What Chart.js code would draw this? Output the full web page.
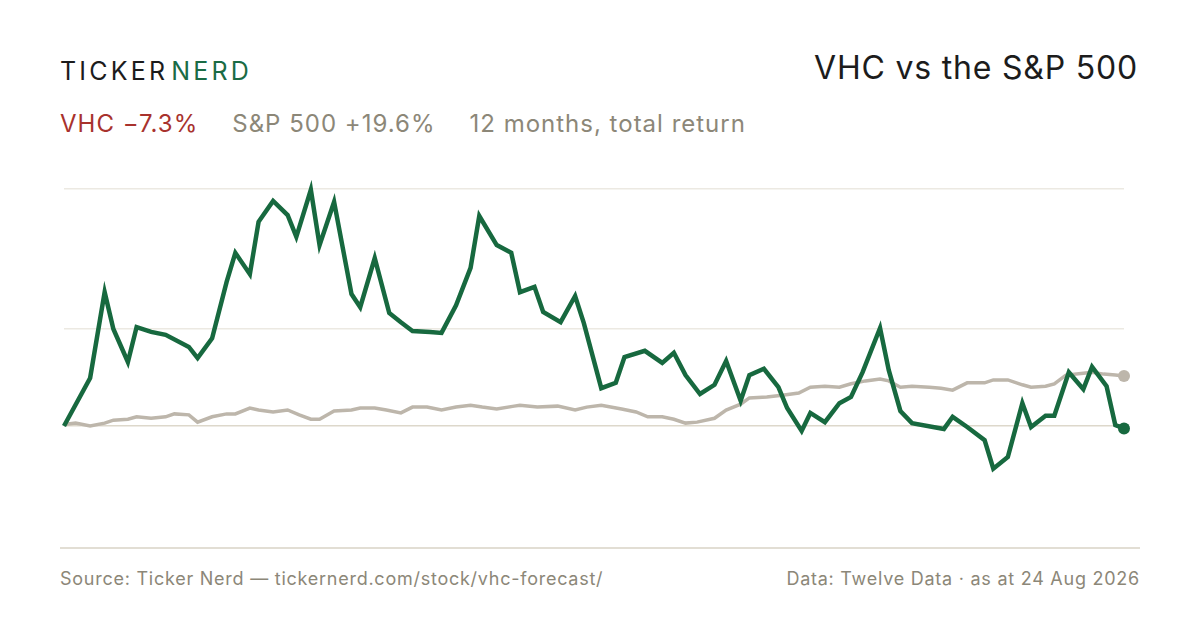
<!DOCTYPE html>
<html>
<head>
<meta charset="utf-8">
<script src="https://cdn.jsdelivr.net/npm/chart.js@4"></script>
<style>
  body { margin: 0; width: 1200px; height: 630px; background: #fff; font-family: Inter, "Liberation Sans", sans-serif; position: relative; overflow: hidden; }
  .brand { position: absolute; left: 60px; top: 56px; font-size: 25px; letter-spacing: 3.2px; color: #1c1c1c; }
  .brand span { color: #1a6b45; margin-left: 3px; }
  .title { position: absolute; right: 62px; top: 48px; font-size: 32px; letter-spacing: 0.8px; color: #1c1c1c; }
  .sub { position: absolute; left: 60px; top: 109px; font-size: 24px; letter-spacing: 1px; color: #8c8778; white-space: nowrap; }
  .sub .vhc { color: #a8322d; margin-right: 34px; }
  .sub .spx { margin-right: 34px; }
  .rule { position: absolute; left: 60px; top: 547px; width: 1080px; height: 2px; background: #e2ded4; }
  .foot { position: absolute; top: 568px; font-size: 18px; letter-spacing: 0.75px; color: #8c8778; }
  .foot.l { left: 60px; }
  .foot.r { right: 60px; }
  #wrap { position: absolute; left: 54px; top: 170px; width: 1080px; height: 320px; }
</style>
</head>
<body>
<div class="brand">TICKER<span>NERD</span></div>
<div class="title">VHC vs the S&amp;P 500</div>
<div class="sub"><span class="vhc">VHC −7.3%</span><span class="spx">S&amp;P 500 +19.6%</span><span>12 months, total return</span></div>
<div id="wrap"><canvas id="chart"></canvas></div>
<div class="rule"></div>
<div class="foot l">Source: Ticker Nerd — tickernerd.com/stock/vhc-forecast/</div>
<div class="foot r">Data: Twelve Data · as at 24 Aug 2026</div>
<script>
// day offsets (calendar days from start) and rebased % values
let vhcDays = [0, 9, 14, 17, 22, 25, 30, 35, 43, 46, 51, 56, 59, 64, 67, 72, 77, 80, 85, 88,
  93, 99, 102, 107, 112, 116, 120, 126, 130, 135, 140, 143, 149, 154, 157, 162, 165, 171, 176, 179,
  185, 190, 193, 200, 206, 210, 214, 219, 224, 228, 233, 236, 241, 246, 249, 254, 257, 262, 267, 271,
  275, 281, 284, 288, 292, 303, 306, 311, 317, 320, 325, 330, 333, 338, 341, 346, 351, 354, 359, 362, 365];
let vhcValues = [0, 9.9, 27.6, 20.0, 13.2, 20.4, 19.4, 18.8, 16.3, 14.0, 18.1, 29.7, 35.7, 31.3, 42.1, 46.4, 43.5, 39.0, 48.7, 37.3,
  46.2, 27.2, 24.5, 34.6, 23.3, 21.4, 19.6, 19.4, 19.2, 24.9, 32.6, 43.3, 37.3, 35.7, 27.6, 28.7, 23.5, 21.4, 26.8, 21.2,
  7.8, 8.9, 14.2, 15.5, 13.0, 15.1, 10.5, 6.6, 8.5, 13.4, 5.2, 10.5, 11.8, 8.0, 3.7, -1.0, 2.7, 0.8, 4.7, 6.0,
  11.1, 20.2, 11.5, 3.1, 0.6, -0.6, 1.9, -0.2, -2.9, -8.8, -6.4, 4.7, -0.2, 2.1, 2.1, 11.1, 7.6, 12.2, 8.2, 0.2, -0.5];

let spxDays = [0, 4, 9, 14, 17, 22, 25, 30, 35, 38, 43, 46, 51, 56, 59, 64, 67, 72, 77, 81,
  85, 88, 93, 99, 102, 107, 111, 116, 120, 125, 130, 135, 140, 144, 149, 155, 157, 163, 170, 176,
  180, 185, 192, 197, 201, 206, 210, 214, 218, 224, 228, 233, 236, 242, 248, 253, 257, 262, 267, 271,
  276, 281, 284, 288, 292, 298, 302, 306, 311, 317, 320, 325, 330, 333, 338, 341, 345, 351, 354, 358, 362, 365];
let spxValues = [0.3, 0.6, 0, 0.6, 1.2, 1.4, 1.9, 1.6, 1.9, 2.5, 2.3, 0.8, 1.9, 2.5, 2.5, 3.7, 3.3, 2.9, 3.3, 2.3,
  1.4, 1.4, 3.1, 3.3, 3.7, 3.7, 3.3, 2.7, 3.9, 3.9, 3.3, 3.9, 4.3, 3.9, 3.5, 4.1, 4.3, 3.9, 4.1, 3.3,
  3.9, 4.3, 3.5, 2.9, 1.9, 1.9, 1.4, 0.6, 0.8, 1.6, 3.3, 4.5, 5.8, 6.0, 6.4, 6.8, 8.0, 8.2, 8.0, 8.7,
  9.3, 9.7, 9.3, 8.0, 8.2, 8.0, 7.8, 7.4, 8.9, 8.9, 9.5, 9.5, 8.5, 8.0, 8.2, 8.7, 10.5, 10.9, 11.1, 10.7, 10.5, 10.3];

let gridTicks = [0, 20, 49];

function pairs(days, vals) {
  return days.map((d, i) => ({ x: d, y: vals[i] }));
}
function lastDot(ctx) {
  return ctx.dataIndex === ctx.dataset.data.length - 1 ? 6 : 0;
}

let chart = new Chart(document.getElementById('chart').getContext('2d'), {
  type: 'line',
  data: {
    datasets: [{
      label: 'VHC',
      data: pairs(vhcDays, vhcValues),
      borderColor: '#17693f',
      backgroundColor: '#17693f',
      borderWidth: 4.5,
      pointRadius: lastDot,
      pointHoverRadius: lastDot,
      pointBorderWidth: 0,
      clip: false,
      order: 1
    }, {
      label: 'S&P 500',
      data: pairs(spxDays, spxValues),
      borderColor: '#bdb6ab',
      backgroundColor: '#bdb6ab',
      borderWidth: 3.5,
      pointRadius: lastDot,
      pointHoverRadius: lastDot,
      pointBorderWidth: 0,
      clip: false,
      order: 2
    }]
  },
  options: {
    responsive: true,
    maintainAspectRatio: false,
    animation: false,
    layout: { padding: { left: 10, right: 10, top: 10, bottom: 10 } },
    scales: {
      x: {
        type: 'linear',
        min: 0,
        max: 365,
        display: false
      },
      y: {
        min: -11.13,
        max: 50.72,
        afterBuildTicks: (scale) => { scale.ticks = gridTicks.map(v => ({ value: v })); },
        ticks: { display: false },
        border: { display: false },
        grid: {
          drawTicks: false,
          lineWidth: 1.5,
          color: (ctx) => ctx.tick && ctx.tick.value === 0 ? '#ddd8cb' : '#ece9e2'
        }
      }
    },
    plugins: {
      legend: { display: false },
      tooltip: { enabled: false }
    }
  }
});
</script>
</body>
</html>
